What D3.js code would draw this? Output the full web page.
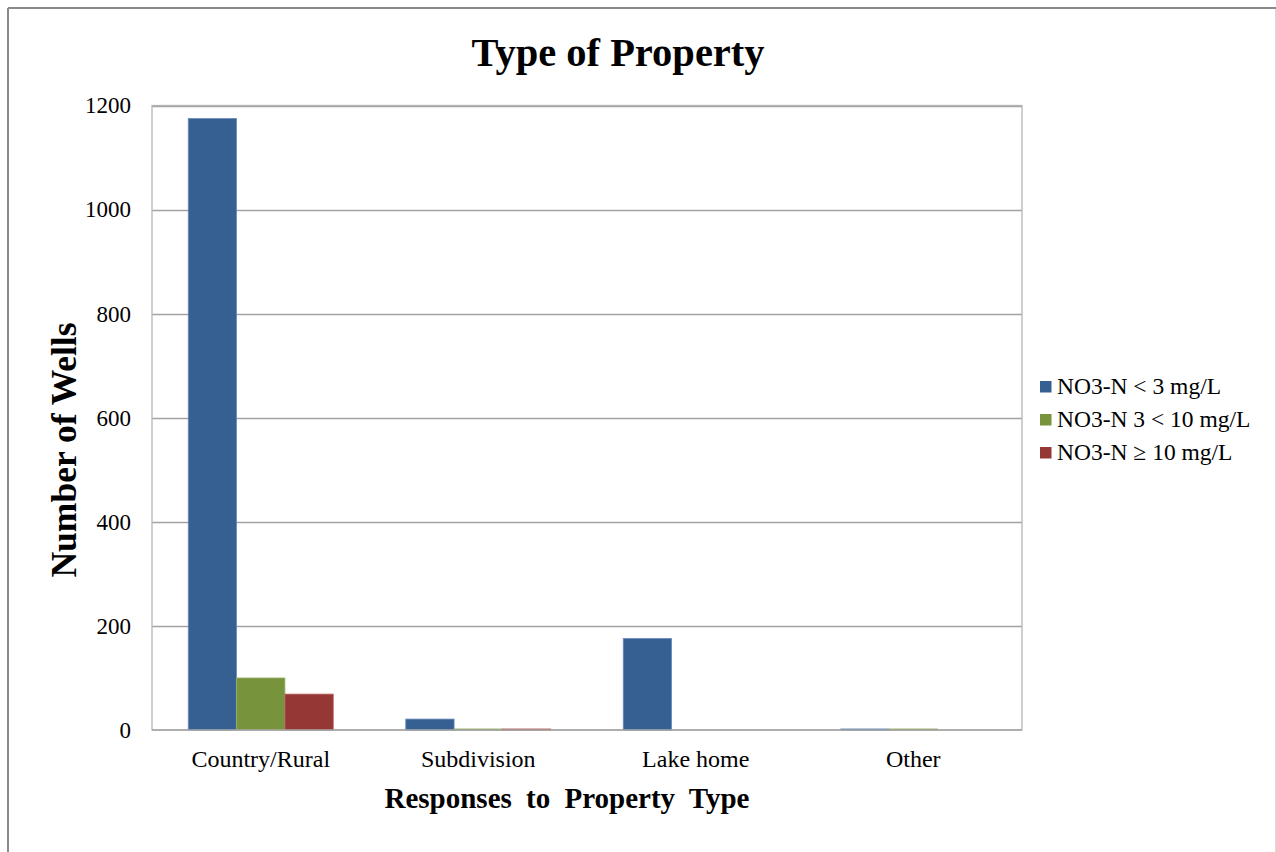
<!DOCTYPE html>
<html>
<head>
<meta charset="utf-8">
<script src="https://cdn.jsdelivr.net/npm/d3@7"></script>
<style>
  html, body { margin: 0; padding: 0; background: #fff; }
  svg { display: block; }
  text { font-family: "Liberation Serif", "Times New Roman", serif; fill: #000; }
</style>
</head>
<body>
<svg id="chart" width="1276" height="852"></svg>
<script>
const categories = ["Country/Rural", "Subdivision", "Lake home", "Other"];
const seriesNames = ["NO3-N < 3 mg/L", "NO3-N 3 < 10 mg/L", "NO3-N \u2265 10 mg/L"];
const lowValues = [1175, 21, 176, 2];
const midValues = [100, 2, 0, 2];
const highValues = [69, 2, 0, 0];
const yTicks = [0, 200, 400, 600, 800, 1000, 1200];
const seriesColors = ["#376092", "#77933c", "#953735"];
const seriesStroke = ["#6a8cbc", "#9cb56a", "#b86664"];

const seriesValues = [lowValues, midValues, highValues];

const svg = d3.select("#chart");
const W = 1276, H = 852;
const plot = { left: 152, right: 1022, top: 105.5, bottom: 730 };

// outer chart border
svg.append("line").attr("x1", 8).attr("x2", 1276).attr("y1", 8).attr("y2", 8)
  .attr("stroke", "#8a8a8a").attr("stroke-width", 2);
svg.append("line").attr("x1", 8).attr("x2", 8).attr("y1", 8).attr("y2", H)
  .attr("stroke", "#8a8a8a").attr("stroke-width", 2);
svg.append("line").attr("x1", 1275.5).attr("x2", 1275.5).attr("y1", 9).attr("y2", H)
  .attr("stroke", "#d9d9d9").attr("stroke-width", 1);

const y = d3.scaleLinear().domain([0, 1200]).range([plot.bottom, plot.top]);
const x0 = d3.scaleBand().domain(categories).range([plot.left, plot.right])
  .paddingInner(1/3).paddingOuter(1/6);
const x1 = d3.scaleBand().domain(d3.range(seriesNames.length)).range([0, x0.bandwidth()]);

// gridlines
svg.append("g").selectAll("line").data(yTicks.filter(t => t > 0)).join("line")
  .attr("x1", plot.left).attr("x2", plot.right)
  .attr("y1", d => Math.round(y(d)) + 0.5).attr("y2", d => Math.round(y(d)) + 0.5)
  .attr("stroke", "#a3a3a3").attr("stroke-width", 1.3);

// plot border
svg.append("rect").attr("x", plot.left).attr("y", plot.top)
  .attr("width", plot.right - plot.left).attr("height", plot.bottom - plot.top)
  .attr("fill", "none").attr("stroke", "#b5b5b5").attr("stroke-width", 1.3);

// bars
const groups = svg.append("g").selectAll("g").data(categories).join("g")
  .attr("transform", c => `translate(${x0(c)},0)`);
groups.selectAll("rect")
  .data((c, ci) => seriesValues.map((vals, si) => ({ si, v: vals[ci] })).filter(d => d.v > 0))
  .join("rect")
  .attr("x", d => x1(d.si))
  .attr("width", x1.bandwidth())
  .attr("y", d => y(d.v))
  .attr("height", d => y(0) - y(d.v))
  .attr("fill", d => seriesColors[d.si])
  .attr("stroke", d => seriesStroke[d.si])
  .attr("stroke-width", 0.8);

// x axis line
svg.append("line").attr("x1", plot.left).attr("x2", plot.right)
  .attr("y1", plot.bottom).attr("y2", plot.bottom)
  .attr("stroke", "#a3a3a3").attr("stroke-width", 1.5);

// y axis labels
const yAxis = d3.axisLeft(y).tickValues(yTicks).tickSize(0).tickPadding(21).tickFormat(d3.format("d"));
const yg = svg.append("g").attr("transform", `translate(${plot.left},0)`).call(yAxis);
yg.select(".domain").remove();
yg.selectAll("text").attr("font-size", 23).attr("font-family", "Liberation Serif").attr("fill", "#000");

// x axis labels
const xAxis = d3.axisBottom(x0).tickSize(0).tickPadding(0);
const xg = svg.append("g").attr("transform", `translate(0,${plot.bottom})`).call(xAxis);
xg.select(".domain").remove();
xg.selectAll("text").attr("font-size", 24).attr("font-family", "Liberation Serif").attr("fill", "#000")
  .attr("dy", null).attr("y", 37);

// title
svg.append("text").attr("x", 618).attr("y", 66).attr("text-anchor", "middle")
  .attr("font-size", 40.5).attr("font-weight", "bold").text("Type of Property");

// axis titles
svg.append("text").attr("transform", "translate(76,450) rotate(-90)").attr("text-anchor", "middle")
  .attr("font-size", 35.5).attr("font-weight", "bold").text("Number of Wells");
svg.append("text").attr("x", 567).attr("y", 808).attr("text-anchor", "middle")
  .attr("font-size", 29).attr("font-weight", "bold").attr("word-spacing", 7)
  .text("Responses to Property Type");

// legend
const legend = svg.append("g").attr("transform", "translate(1040,381)");
const li = legend.selectAll("g").data(seriesNames).join("g")
  .attr("transform", (d, i) => `translate(0,${i * 33})`);
li.append("rect").attr("width", 11.5).attr("height", 11.5)
  .attr("fill", (d, i) => seriesColors[i]);
li.append("text").attr("x", 17).attr("y", 12.5).attr("font-size", 23.5).text(d => d);
</script>
</body>
</html>
